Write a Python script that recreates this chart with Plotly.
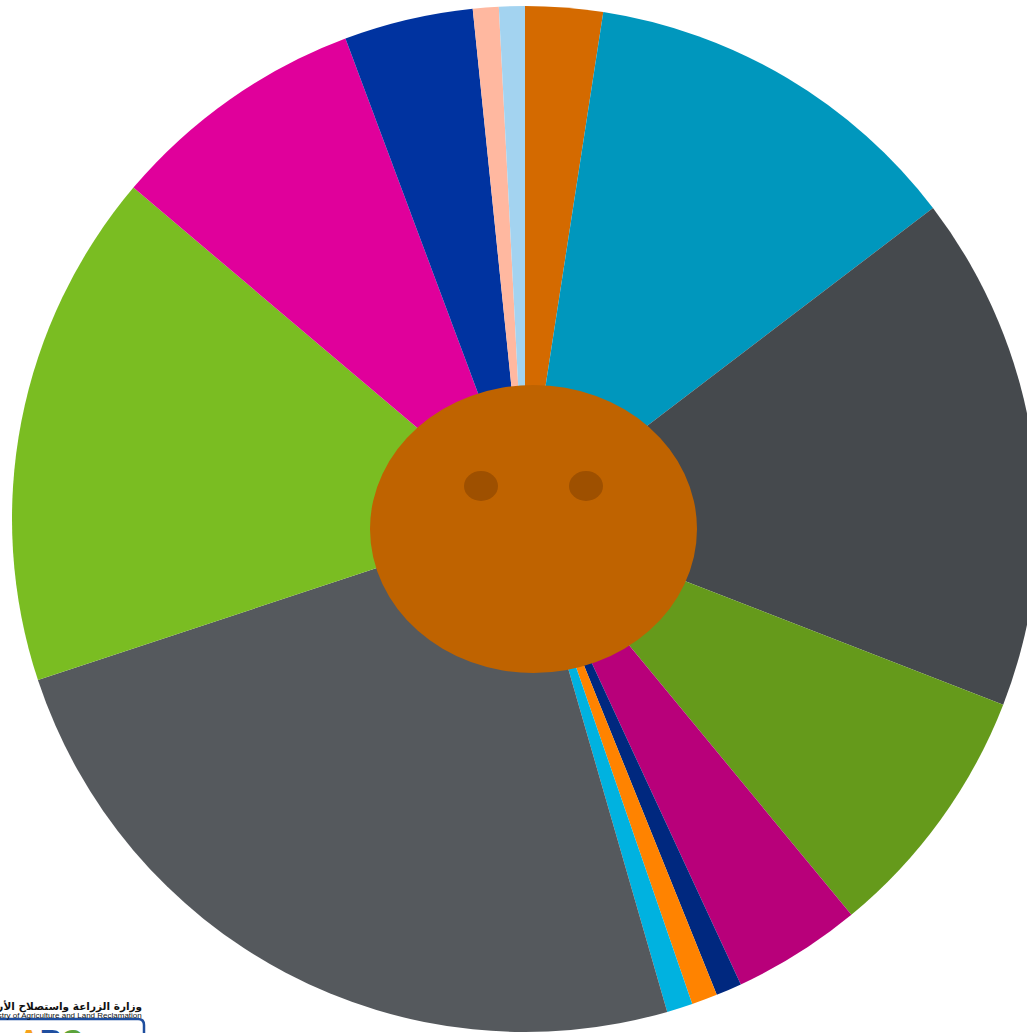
import plotly.graph_objects as go

# ---- data ----
categories = ["A", "B", "C", "D", "E", "F", "G", "H", "I", "J", "K", "L", "M", "N"]
values = [3, 15, 20, 10, 5, 1, 1, 1, 30, 20, 10, 5, 1, 1]
colors = ["#D46A00", "#0097BD", "#45494D", "#659A1B", "#B8007A", "#00287F", "#FF8300",
          "#00B2E0", "#55595D", "#7ABD22", "#E0009B", "#0033A0", "#FFB8A0", "#A3D3F0"]
arabic_title = "وزارة الزراعة واستصلاح الأراضي"
english_title = "Ministry of Agriculture and Land Reclamation"

W, H = 1038, 1033


def px(x):
    return x / W


def py(y):
    return 1 - y / H


fig = go.Figure()
fig.add_trace(go.Pie(
    labels=categories,
    values=values,
    sort=False,
    direction="clockwise",
    rotation=0,
    marker=dict(colors=colors, line=dict(width=0)),
    textinfo="none",
    showlegend=False,
    domain=dict(x=[px(12), 1.0], y=[py(1032), py(6)]),
))

shapes = [
    dict(type="circle", xref="paper", yref="paper", x0=px(370), x1=px(697), y0=py(673), y1=py(385),
         fillcolor="#BF6300", line=dict(width=0)),
    dict(type="circle", xref="paper", yref="paper", x0=px(464), x1=px(498), y0=py(501), y1=py(471),
         fillcolor="#9E5000", line=dict(width=0)),
    dict(type="circle", xref="paper", yref="paper", x0=px(569), x1=px(603), y0=py(501), y1=py(471),
         fillcolor="#9E5000", line=dict(width=0)),
    dict(type="path", xref="paper", yref="paper",
         path=f"M 0,{py(1019)} L {px(138)},{py(1019)} Q {px(144)},{py(1019)} {px(144)},{py(1025)} L {px(144)},{py(1040)}",
         line=dict(color="#1F4E9E", width=2.5)),
]

annotations = [
    dict(text=f"<b>{arabic_title}</b>", xref="paper", yref="paper", x=px(144), y=py(998),
         xanchor="right", yanchor="top", showarrow=False,
         font=dict(family="DejaVu Sans", size=10.5, color="#111111")),
    dict(text=english_title, xref="paper", yref="paper", x=px(144), y=py(1009),
         xanchor="right", yanchor="top", showarrow=False,
         font=dict(family="Liberation Sans", size=8, color="#111111")),
    dict(text="<b><span style='color:#F7A21B'>A</span><span style='color:#1F4E9E'>R</span><span style='color:#5BA33B'>C</span></b>",
         xref="paper", yref="paper", x=px(16), y=py(1021),
         xanchor="left", yanchor="top", showarrow=False,
         font=dict(family="Liberation Sans", size=30, color="#1F4E9E")),
]

fig.update_layout(
    width=W, height=H,
    margin=dict(l=0, r=0, t=0, b=0, pad=0),
    paper_bgcolor="white",
    plot_bgcolor="white",
    shapes=shapes,
    annotations=annotations,
)

fig.write_html("out.html",
               config={"displayModeBar": False},
               post_script="document.body.style.margin='0';document.body.style.overflow='hidden';document.documentElement.style.overflow='hidden';")
